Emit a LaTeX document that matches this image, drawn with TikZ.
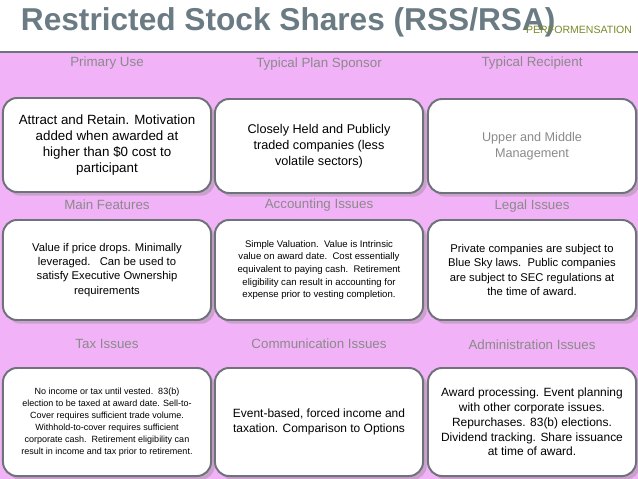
\documentclass[tikz,border=0pt]{standalone}
\usepackage{fontspec}
\setmainfont{Liberation Sans}
\usetikzlibrary{shadows}
\definecolor{pinkbg}{HTML}{F2B2F7}
\definecolor{titlegray}{HTML}{6B7B83}
\definecolor{headgray}{HTML}{8A8A8A}
\definecolor{boxline}{HTML}{6E737A}
\definecolor{logogreen}{HTML}{7A8A2A}

\tikzset{
	cell/.style={draw=boxline, line width=1.4pt, fill=white, rounded corners=10pt,
		minimum width=5.2cm, align=center, drop shadow={opacity=.35}},
	head/.style={text=headgray, font=\fontsize{9.5}{11}\selectfont}
}

\begin{document}
\begin{tikzpicture}[x=0.025cm,y=-0.025cm]
		\useasboundingbox (0,0) rectangle (638,479);
		% background
		\fill[white] (0,0) rectangle (638,479);
		\fill[pinkbg] (0,52) rectangle (638,479);
		\draw[boxline, line width=1pt] (0,52) -- (638,52);
		% title
		\node[anchor=west, text=titlegray, font=\bfseries\fontsize{22.5}{26}\selectfont] (title) at (16,22) {Restricted Stock Shares (RSS/RSA)};
		\node[anchor=east, text=logogreen, font=\fontsize{7.5}{9}\selectfont] (logo) at (637,30) {PERFORMENSATION};
		% headers
		\node[head] (h1) at (107,63) {Primary Use};
		\node[head] (h2) at (319,64) {Typical Plan Sponsor};
		\node[head] (h3) at (532,63) {Typical Recipient};
		\node[head] (h4) at (107,205) {Main Features};
		\node[head] (h5) at (319,205) {Accounting Issues};
		\node[head] (h6) at (532,206) {Legal Issues};
		\node[head] (h7) at (107,344) {Tax Issues};
		\node[head] (h8) at (319,344) {Communication Issues};
		\node[head] (h9) at (532,345) {Administration Issues};
		% row 1
		\node[cell, minimum height=2.35cm, font=\fontsize{9.5}{11.5}\selectfont] (use) at (107,145) {Attract and Retain. Motivation\\ added when awarded at\\ higher than \$0 cost to\\ participant};
		\node[cell, minimum height=2.35cm, font=\fontsize{9}{11.5}\selectfont] (sponsor) at (319,146) {Closely Held and Publicly\\ traded companies (less\\ volatile sectors)};
		\node[cell, minimum height=2.35cm, text=headgray, font=\fontsize{9}{11.5}\selectfont] (recipient) at (532,146) {Upper and Middle\\ Management};
		% row 2
		\node[cell, minimum height=2.5cm, font=\fontsize{8}{10}\selectfont] (features) at (107,270) {Value if price drops. Minimally\\ leveraged.\ \ \ Can be used to\\ satisfy Executive Ownership\\ requirements};
		\node[cell, minimum height=2.5cm, font=\fontsize{6.8}{9}\selectfont] (accounting) at (319,270) {Simple Valuation.\ \ Value is Intrinsic\\ value on award date.\ \ Cost essentially\\ equivalent to paying cash.\ \ Retirement\\ eligibility can result in accounting for\\ expense prior to vesting completion.};
		\node[cell, minimum height=2.5cm, font=\fontsize{8}{10}\selectfont] (legal) at (532,270) {Private companies are subject to\\ Blue Sky laws.\ \ Public companies\\ are subject to SEC regulations at\\ the time of award.};
		% row 3
		\node[cell, minimum height=2.7cm, font=\fontsize{6.4}{8.6}\selectfont] (tax) at (107,422) {No income or tax until vested.\ \ 83(b)\\ election to be taxed at award date. Sell-to-\\ Cover requires sufficient trade volume.\\ Withhold-to-cover requires sufficient\\ corporate cash.\ \ Retirement eligibility can\\ result in income and tax prior to retirement.};
		\node[cell, minimum height=2.7cm, font=\fontsize{8.5}{10.5}\selectfont] (communication) at (319,422) {Event-based, forced income and\\ taxation. Comparison to Options};
		\node[cell, minimum height=2.7cm, font=\fontsize{8.5}{10.5}\selectfont] (administration) at (532,422) {Award processing. Event planning\\ with other corporate issues.\\ Repurchases. 83(b) elections.\\ Dividend tracking. Share issuance\\ at time of award.};
\end{tikzpicture}
\end{document}
